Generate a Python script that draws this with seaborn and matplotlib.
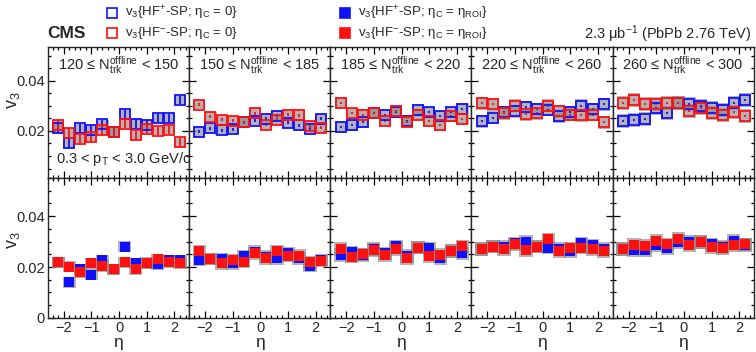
import numpy
import pandas
import matplotlib
matplotlib.use('Agg')
import matplotlib.pyplot as plt
import seaborn as sns
from matplotlib.patches import Rectangle
from matplotlib.ticker import MultipleLocator

# ====== DATA

eta = [-2.2, -1.8, -1.4, -1.0, -0.6, -0.2, 0.2, 0.6, 1.0, 1.4, 1.8, 2.2]
mult_lo = [120, 150, 185, 220, 260]
mult_hi = [150, 185, 220, 260, 300]

# top row: eta_C = 0 (open markers)
v3_hfp_c0 = [
    [0.0210, 0.0150, 0.0210, 0.0202, 0.0228, 0.0195, 0.0267, 0.0229, 0.0225, 0.0252, 0.0252, 0.0324],
    [0.0197, 0.0210, 0.0202, 0.0206, 0.0235, 0.0241, 0.0249, 0.0261, 0.0232, 0.0222, 0.0209, 0.0248],
    [0.0215, 0.0223, 0.0235, 0.0273, 0.0262, 0.0275, 0.0241, 0.0284, 0.0275, 0.0258, 0.0274, 0.0288],
    [0.0239, 0.0252, 0.0274, 0.0278, 0.0295, 0.0287, 0.0284, 0.0258, 0.0274, 0.0300, 0.0287, 0.0307],
    [0.0239, 0.0245, 0.0249, 0.0291, 0.0271, 0.0311, 0.0307, 0.0300, 0.0293, 0.0284, 0.0313, 0.0324],
]
v3_hfm_c0 = [
    [0.0225, 0.0193, 0.0167, 0.0177, 0.0202, 0.0195, 0.0229, 0.0182, 0.0209, 0.0199, 0.0203, 0.0154],
    [0.0304, 0.0256, 0.0245, 0.0241, 0.0235, 0.0271, 0.0225, 0.0245, 0.0265, 0.0262, 0.0219, 0.0213],
    [0.0313, 0.0271, 0.0265, 0.0270, 0.0241, 0.0280, 0.0236, 0.0265, 0.0241, 0.0222, 0.0258, 0.0248],
    [0.0311, 0.0307, 0.0271, 0.0301, 0.0267, 0.0271, 0.0300, 0.0278, 0.0265, 0.0262, 0.0265, 0.0235],
    [0.0311, 0.0324, 0.0308, 0.0307, 0.0311, 0.0311, 0.0280, 0.0293, 0.0271, 0.0262, 0.0275, 0.0261],
]

# bottom row: eta_C = eta_ROI (filled markers)
v3_hfp_roi = [
    [0.0218, 0.0140, 0.0191, 0.0169, 0.0227, 0.0191, 0.0280, 0.0214, 0.0214, 0.0210, 0.0227, 0.0227],
    [0.0227, 0.0231, 0.0231, 0.0214, 0.0243, 0.0260, 0.0240, 0.0234, 0.0254, 0.0234, 0.0205, 0.0227],
    [0.0247, 0.0258, 0.0247, 0.0271, 0.0254, 0.0282, 0.0243, 0.0276, 0.0273, 0.0234, 0.0263, 0.0254],
    [0.0271, 0.0280, 0.0280, 0.0293, 0.0299, 0.0280, 0.0276, 0.0271, 0.0263, 0.0293, 0.0286, 0.0271],
    [0.0271, 0.0267, 0.0267, 0.0286, 0.0276, 0.0299, 0.0299, 0.0299, 0.0289, 0.0280, 0.0302, 0.0286],
]
v3_hfm_roi = [
    [0.0218, 0.0201, 0.0179, 0.0214, 0.0204, 0.0191, 0.0218, 0.0191, 0.0216, 0.0231, 0.0218, 0.0214],
    [0.0263, 0.0231, 0.0214, 0.0227, 0.0221, 0.0254, 0.0234, 0.0263, 0.0244, 0.0244, 0.0218, 0.0224],
    [0.0271, 0.0240, 0.0250, 0.0267, 0.0247, 0.0271, 0.0234, 0.0276, 0.0243, 0.0247, 0.0263, 0.0282],
    [0.0271, 0.0280, 0.0271, 0.0289, 0.0267, 0.0280, 0.0309, 0.0263, 0.0273, 0.0276, 0.0271, 0.0263],
    [0.0271, 0.0286, 0.0282, 0.0302, 0.0289, 0.0312, 0.0286, 0.0299, 0.0280, 0.0276, 0.0286, 0.0289],
]

# statistical and systematic uncertainties per multiplicity bin
stat_err = [0.0017, 0.0006, 0.0004, 0.0004, 0.0004]
sys_err_top = [0.0017, 0.0020, 0.0022, 0.0026, 0.0028]
sys_err_bot = [0.0022, 0.0025, 0.0026, 0.0026, 0.0027]

# ====== STYLE

sns.set_style('ticks')
plt.rcParams['font.family'] = ['Liberation Sans', 'DejaVu Sans']
plt.rcParams['mathtext.fontset'] = 'custom'
plt.rcParams['mathtext.rm'] = 'Liberation Sans'
plt.rcParams['mathtext.it'] = 'Liberation Sans'
plt.rcParams['mathtext.bf'] = 'Liberation Sans:bold'

BLUE = '#1010ff'
RED = '#ff1010'
GREY = '#8a8a8a'

fig, axes = plt.subplots(2, 5, figsize=(7.56, 3.52), dpi=100,
                         gridspec_kw={'height_ratios': [131, 140]})
fig.subplots_adjust(left=0.063, right=0.997, top=0.866, bottom=0.097, wspace=0, hspace=0)


def sys_boxes(ax, values, err, width):
    for x, y in zip(eta, values):
        ax.add_patch(Rectangle((x - width / 2, y - err), width, 2 * err,
                               facecolor=GREY, edgecolor='none', alpha=0.65, zorder=2))


for i in range(5):
    for row in range(2):
        ax = axes[row, i]
        if row == 0:
            series = [(v3_hfp_c0[i], BLUE), (v3_hfm_c0[i], RED)]
            sys = sys_err_top[i]
            bw = 0.44
        else:
            series = [(v3_hfp_roi[i], BLUE), (v3_hfm_roi[i], RED)]
            sys = sys_err_bot[i]
            bw = 0.48

        for vals, col in series:
            sys_boxes(ax, vals, sys, bw)
        for vals, col in series:
            df = pandas.DataFrame({'eta': eta, 'v3': vals})
            ax.errorbar(df['eta'], df['v3'], yerr=stat_err[i], fmt='none',
                        ecolor=col, elinewidth=1.3, capsize=0, zorder=3)
            if row == 0:
                ax.plot(df['eta'], df['v3'], linestyle='none', marker='s', markersize=6.6,
                        markerfacecolor='none', markeredgecolor=col, markeredgewidth=1.3, zorder=4)
            else:
                sns.scatterplot(data=df, x='eta', y='v3', ax=ax, marker='s', s=54,
                                color=col, edgecolor=col, linewidth=0, zorder=4)

        ax.set_xlim(-2.58, 2.52)
        if row == 0:
            ax.set_ylim(0.0012, 0.0535)
        else:
            ax.set_ylim(0, 0.055)
        ax.set_xlabel('')
        ax.set_ylabel('')
        ax.xaxis.set_major_locator(MultipleLocator(1))
        ax.xaxis.set_minor_locator(MultipleLocator(0.2))
        ax.yaxis.set_major_locator(MultipleLocator(0.02))
        ax.yaxis.set_minor_locator(MultipleLocator(0.005))
        ax.tick_params(which='both', direction='in', top=True, right=True,
                       labelsize=10.5, width=0.9, color='black', pad=2)
        ax.tick_params(which='major', length=5)
        ax.tick_params(which='minor', length=2.5)
        for sp in ax.spines.values():
            sp.set_linewidth(1.0)
        if i > 0:
            ax.set_yticklabels([])
        else:
            ax.yaxis.set_major_formatter(plt.FuncFormatter(lambda v, p: '0' if v == 0 else f'{v:.2f}'))
        if row == 0:
            ax.set_xticklabels([])
        else:
            ax.set_xticks([-2, -1, 0, 1, 2])
            ax.set_xticklabels(['\u22122', '\u22121', '0', '1', '2'])
            ax.set_xlabel('η', fontsize=12.5, labelpad=0)

    axes[0, i].text(0.07, 0.95,
                    f'{mult_lo[i]} ≤ N' + r'$_{\rm trk}^{\rm offline}$' + f' < {mult_hi[i]}',
                    transform=axes[0, i].transAxes, ha='left', va='top', fontsize=10.5)

axes[0, 0].text(0.06, 0.08, r'0.3 < p$_{\rm T}$ < 3.0 GeV/c',
                transform=axes[0, 0].transAxes, ha='left', va='bottom', fontsize=10.5)

fig.text(0.018, 1 - 100 / 352, r'v$_3$', rotation=90, ha='center', va='center', fontsize=13)
fig.text(0.018, 1 - 240 / 352, r'v$_3$', rotation=90, ha='center', va='center', fontsize=13)

# ====== LEGEND AND HEADER

fig.text(47 / 756, 1 - 34 / 352, 'CMS', fontsize=12.5, fontweight='bold', ha='left', va='center')
fig.text(751 / 756, 1 - 34 / 352, r'2.3 $\mu$b$^{-1}$ (PbPb 2.76 TeV)', fontsize=10.5,
         ha='right', va='center')

legend_items = [
    (112, 13, BLUE, False, r'v$_3${HF$^{+}$-SP; $\eta_{\rm C}$ = 0}'),
    (112, 33, RED, False, r'v$_3${HF$^{-}$-SP; $\eta_{\rm C}$ = 0}'),
    (345, 13, BLUE, True, r'v$_3${HF$^{+}$-SP; $\eta_{\rm C}$ = $\eta_{\rm ROI}$}'),
    (345, 33, RED, True, r'v$_3${HF$^{-}$-SP; $\eta_{\rm C}$ = $\eta_{\rm ROI}$}'),
]
for x, y, col, filled, label in legend_items:
    fig.lines.append(plt.Line2D([x / 756], [1 - y / 352], transform=fig.transFigure,
                                marker='s', markersize=6.5, linestyle='none',
                                markerfacecolor=col if filled else 'none',
                                markeredgecolor=col, markeredgewidth=1.2))
    fig.text((x + 13) / 756, 1 - y / 352, label, fontsize=9.5, ha='left', va='center')

plt.savefig('out.png', dpi=100)
plt.close()
